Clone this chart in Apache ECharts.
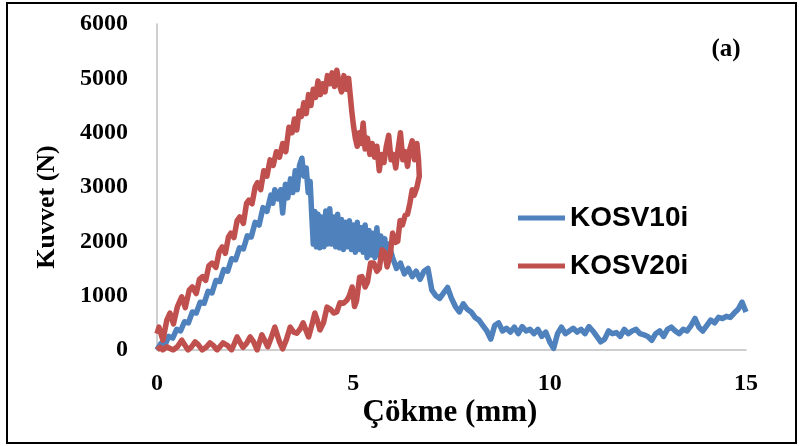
<!DOCTYPE html>
<html>
<head>
<meta charset="utf-8">
<script src="https://cdn.jsdelivr.net/npm/echarts@6/dist/echarts.min.js"></script>
<style>html,body{margin:0;padding:0;background:#fff;}#c{width:801px;height:446px;}</style>
</head>
<body>
<div id="c"></div>
<script>
var seriesNames = ['KOSV10i', 'KOSV20i'];
var xTitle = 'Çökme (mm)';
var yTitle = 'Kuvvet (N)';
var panelLabel = '(a)';

var kosv10 = [[0,0],[0.1,120],[0.2,90],[0.3,250],[0.4,220],[0.5,380],[0.6,350],[0.7,520],[0.8,500],[0.9,700],[1.0,680],[1.1,880],[1.2,860],[1.3,1080],[1.4,1050],[1.5,1280],[1.6,1260],[1.7,1480],[1.8,1450],[1.9,1680],[2.0,1660],[2.1,1880],[2.2,1860],[2.3,2100],[2.4,2080],[2.5,2350],[2.6,2300],[2.7,2620],[2.8,2550],[2.9,2850],[2.95,2700],[3.0,2950],[3.08,2780],[3.15,2950],[3.2,2520],[3.27,3050],[3.33,2800],[3.4,3150],[3.46,2900],[3.52,3300],[3.57,2950],[3.63,3400],[3.69,3530],[3.74,3200],[3.8,3350],[3.85,2900],[3.9,3100],[3.94,2500],[3.98,1950],[4.02,2550],[4.06,1900],[4.1,2500],[4.15,1880],[4.2,2450],[4.25,1900],[4.3,2560],[4.35,1950],[4.4,2600],[4.45,1950],[4.5,2450],[4.55,1900],[4.6,2500],[4.65,1880],[4.7,2400],[4.75,1850],[4.8,2350],[4.85,1900],[4.9,2380],[4.95,1850],[5.0,2300],[5.05,1800],[5.1,2350],[5.15,1850],[5.2,2250],[5.25,1800],[5.3,2300],[5.35,1700],[5.4,2200],[5.45,1750],[5.5,2150],[5.55,1700],[5.6,2250],[5.65,1750],[5.7,2100],[5.75,1700],[5.8,2050],[5.85,1650],[5.9,1950],[6.0,1700],[6.1,1500],[6.2,1600],[6.3,1400],[6.4,1500],[6.5,1350],[6.6,1450],[6.7,1300],[6.8,1450],[6.9,1500],[7.0,1100],[7.1,1000],[7.2,950],[7.3,1050],[7.4,1150],[7.5,950],[7.6,800],[7.7,700],[7.8,850],[7.9,750],[8.0,700],[8.1,600],[8.2,550],[8.3,450],[8.4,350],[8.5,200],[8.6,450],[8.7,500],[8.8,350],[8.9,400],[9.0,330],[9.1,420],[9.2,300],[9.3,430],[9.4,350],[9.5,380],[9.6,300],[9.7,380],[9.8,250],[9.9,330],[10.0,150],[10.1,30],[10.2,300],[10.3,420],[10.4,300],[10.5,350],[10.6,400],[10.7,330],[10.8,380],[10.9,300],[11.0,430],[11.1,350],[11.2,250],[11.3,150],[11.4,200],[11.5,350],[11.6,300],[11.7,320],[11.8,250],[11.9,380],[12.0,300],[12.1,350],[12.2,380],[12.3,300],[12.4,280],[12.5,250],[12.6,180],[12.7,300],[12.8,350],[12.9,250],[13.0,380],[13.1,420],[13.2,350],[13.3,300],[13.4,380],[13.5,350],[13.6,450],[13.7,580],[13.8,420],[13.9,350],[14.0,450],[14.1,550],[14.2,500],[14.3,600],[14.4,580],[14.5,620],[14.6,600],[14.7,680],[14.8,750],[14.9,880],[15.0,700]];

var kosv20 = [[0,300],[0.05,420],[0.15,180],[0.25,550],[0.33,680],[0.42,480],[0.52,800],[0.63,980],[0.72,780],[0.82,1100],[0.9,1160],[1.0,1040],[1.08,1300],[1.16,1350],[1.24,1280],[1.32,1550],[1.4,1600],[1.5,1520],[1.58,1800],[1.66,1900],[1.74,1780],[1.82,2080],[1.88,2150],[1.96,2070],[2.04,2380],[2.11,2450],[2.2,2330],[2.28,2700],[2.34,2760],[2.42,2690],[2.5,3000],[2.56,3080],[2.64,2950],[2.72,3300],[2.8,3200],[2.88,3500],[2.96,3400],[3.04,3650],[3.12,3550],[3.2,3800],[3.28,3650],[3.36,4100],[3.44,4000],[3.5,4250],[3.56,4050],[3.62,4400],[3.68,4300],[3.74,4550],[3.8,4350],[3.86,4700],[3.92,4500],[3.98,4800],[4.04,4650],[4.1,4950],[4.16,4700],[4.22,4900],[4.28,4750],[4.34,5050],[4.4,4900],[4.46,5100],[4.52,4850],[4.58,5150],[4.64,4900],[4.7,4750],[4.76,5050],[4.82,4800],[4.88,5000],[4.92,4700],[4.96,4400],[5.0,4150],[5.05,3900],[5.1,3750],[5.15,4000],[5.2,3800],[5.25,4180],[5.3,3700],[5.36,3900],[5.42,3600],[5.48,3800],[5.54,3550],[5.6,3750],[5.66,3300],[5.72,3600],[5.78,3450],[5.84,3750],[5.9,3950],[5.96,3500],[6.02,3600],[6.08,3350],[6.14,3700],[6.2,4000],[6.26,3500],[6.32,3650],[6.38,3380],[6.44,3700],[6.5,3850],[6.56,3500],[6.62,3800],[6.66,3500],[6.68,3200],
[6.62,3000],[6.55,2850],[6.5,2950],[6.44,2700],[6.38,2500],[6.32,2480],[6.25,2300],[6.19,2380],[6.13,2000],[6.07,1980],[6.0,2150],[5.94,1750],[5.86,1530],[5.8,1800],[5.73,1840],[5.66,1500],[5.6,1450],[5.52,1600],[5.44,1600],[5.36,1250],[5.3,1160],[5.22,1350],[5.16,1340],[5.08,900],[5.03,800],[4.97,1160],[4.9,1000],[4.84,920],[4.75,860],[4.66,870],[4.58,700],[4.5,680],[4.42,750],[4.33,790],[4.24,500],[4.15,370],[4.08,550],[4.02,680],[3.94,450],[3.86,240],[3.8,350],[3.72,500],[3.64,380],[3.56,310],[3.48,330],[3.39,420],[3.3,200],[3.2,20],[3.12,150],[3.0,420],[2.92,250],[2.82,60],[2.74,180],[2.67,280],[2.6,120],[2.55,0],[2.46,150],[2.37,240],[2.28,120],[2.19,50],[2.1,160],[2.04,240],[1.96,100],[1.9,0],[1.8,80],[1.68,130],[1.6,60],[1.53,0],[1.44,80],[1.35,130],[1.25,50],[1.15,0],[1.05,100],[0.97,150],[0.88,60],[0.79,0],[0.7,100],[0.63,180],[0.52,60],[0.41,0],[0.32,30],[0.25,60],[0.15,0],[0.08,50],[0,0]];

var xMin = 0, xMax = 15, xStep = 5;
var yMin = 0, yMax = 6000, yStep = 1000;

var chart = echarts.init(document.getElementById('c'), null, {renderer: 'canvas'});
var serif = '"Liberation Serif", "Times New Roman", serif';
var sans = '"Liberation Sans", Arial, sans-serif';
chart.setOption({
  animation: false,
  backgroundColor: '#fff',
  grid: {left: 157, right: 55, top: 24, bottom: 96, containLabel: false},
  xAxis: {
    type: 'value', min: xMin, max: xMax, interval: xStep,
    axisLine: {show: true, lineStyle: {color: '#bfbfbf', width: 1.5}},
    axisTick: {show: false},
    splitLine: {show: false},
    axisLabel: {color: '#000', fontFamily: serif, fontWeight: 'bold', fontSize: 24, margin: 22,
      formatter: function (v) { return String(v); }}
  },
  yAxis: {
    type: 'value', min: yMin, max: yMax, interval: yStep,
    axisLine: {show: true, lineStyle: {color: '#bfbfbf', width: 1.5}},
    axisTick: {show: false},
    splitLine: {show: false},
    axisLabel: {color: '#000', fontFamily: serif, fontWeight: 'bold', fontSize: 24, margin: 29,
      formatter: function (v) { return String(v); }}
  },
  legend: {
    orient: 'vertical', left: 518, top: 204, padding: 0,
    itemWidth: 47, itemHeight: 5, itemGap: 20, icon: 'rect',
    textStyle: {color: '#000', fontFamily: sans, fontWeight: 'bold', fontSize: 28, lineHeight: 28, padding: [0,0,0,0]},
    data: seriesNames
  },
  series: [
    {name: seriesNames[0], type: 'line', data: kosv10, showSymbol: false, symbol: 'none',
     lineStyle: {color: '#4F81BD', width: 5.5, join: 'round'}, itemStyle: {color: '#4F81BD'}, z: 2},
    {name: seriesNames[1], type: 'line', data: kosv20, showSymbol: false, symbol: 'none',
     lineStyle: {color: '#C0504D', width: 5.5, join: 'round'}, itemStyle: {color: '#C0504D'}, z: 3}
  ],
  graphic: [
    {type: 'rect', shape: {x: 7, y: 3, width: 789, height: 440}, style: {fill: 'none', stroke: '#000', lineWidth: 2}, silent: true},
    {type: 'text', x: 47, y: 207, rotation: Math.PI / 2,
     style: {text: yTitle, fill: '#000', font: 'bold 26px ' + serif, textAlign: 'center', textVerticalAlign: 'middle'}},
    {type: 'text', x: 450, y: 413,
     style: {text: xTitle, fill: '#000', font: 'bold 31px ' + serif, textAlign: 'center', textVerticalAlign: 'middle'}},
    {type: 'text', x: 726, y: 50,
     style: {text: panelLabel, fill: '#000', font: 'bold 25px ' + serif, textAlign: 'center', textVerticalAlign: 'middle'}}
  ]
});
</script>
</body>
</html>
